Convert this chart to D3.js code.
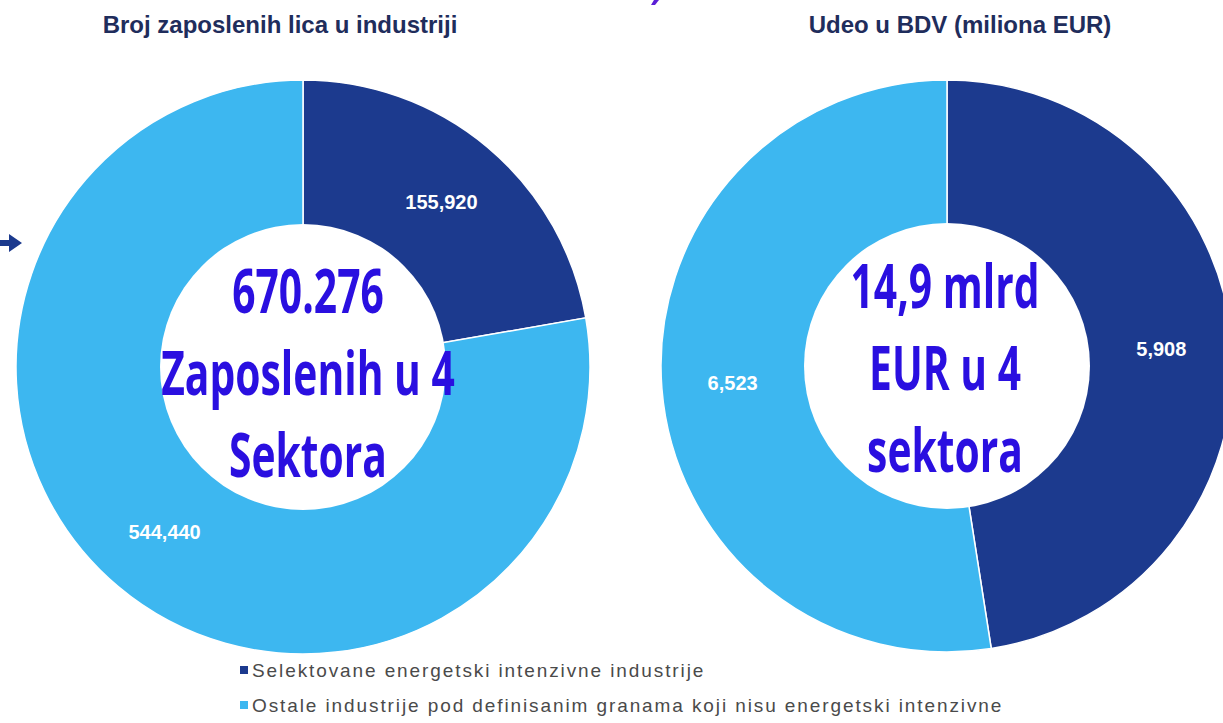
<!DOCTYPE html>
<html>
<head>
<meta charset="utf-8">
<script src="https://cdn.jsdelivr.net/npm/d3@7"></script>
<style>
  body { margin: 0; background: #fff; }
  svg { display: block; }
</style>
</head>
<body>
<div id="chart"></div>
<script>
var w = 1223, h = 723;

// data
var categories = ["Selektovane energetski intenzivne industrije",
                  "Ostale industrije pod definisanim granama koji nisu energetski intenzivne"];
var zaposleni = [155920, 544440];
var bdv = [5908, 6523];
var titles = ["Broj zaposlenih lica u industriji", "Udeo u BDV (miliona EUR)"];
var centerLeft = ["670.276", "Zaposlenih u 4", "Sektora"];
var centerRight = ["14,9 mlrd", "EUR u 4", "sektora"];

var color = d3.scaleOrdinal().domain(categories).range(["#1c3a8e", "#3db7f0"]);
var fmt = d3.format(",");

var svg = d3.select("#chart").append("svg")
    .attr("width", w)
    .attr("height", h);

var pie = d3.pie().sort(null).value(function(d) { return d.value; });

var charts = [
  { cx: 303, cy: 367, r: 287, values: zaposleni, title: titles[0], tx: 280, center: centerLeft, ccx: 308, ccy: 313 },
  { cx: 947, cy: 366, r: 286, values: bdv, title: titles[1], tx: 960, center: centerRight, ccx: 945, ccy: 308 }
];

var arc = d3.arc().innerRadius(140);
var labelArc = d3.arc();

charts.forEach(function(c) {
  var data = c.values.map(function(v, i) { return { key: categories[i], value: v }; });
  var g = svg.append("g").attr("transform", "translate(" + c.cx + "," + c.cy + ")");

  arc.outerRadius(c.r);
  g.selectAll("path.slice")
    .data(pie(data))
    .enter().append("path")
      .attr("class", "slice")
      .attr("d", arc)
      .attr("fill", function(d) { return color(d.data.key); })
      .attr("stroke", "#fff")
      .attr("stroke-width", 1.5);

  // white hole on top
  g.append("circle").attr("r", 143).attr("fill", "#fff");

  labelArc.innerRadius(215).outerRadius(215);
  g.selectAll("text.val")
    .data(pie(data))
    .enter().append("text")
      .attr("class", "val")
      .attr("transform", function(d) { return "translate(" + labelArc.centroid(d) + ")"; })
      .attr("text-anchor", "middle")
      .attr("dy", "0.35em")
      .style("font-family", "Liberation Sans, Arial, sans-serif")
      .style("font-weight", "bold")
      .style("font-size", "20px")
      .style("fill", "#fff")
      .text(function(d) { return fmt(d.data.value); });

  svg.append("text")
    .attr("x", c.tx)
    .attr("y", 33)
    .attr("text-anchor", "middle")
    .style("font-family", "Liberation Sans, Arial, sans-serif")
    .style("font-weight", "bold")
    .style("font-size", "24px")
    .style("fill", "#1f2d5c")
    .text(c.title);

  var ct = svg.append("g")
    .attr("transform", "translate(" + c.ccx + "," + c.ccy + ") scale(0.68,1)");
  ct.selectAll("text")
    .data(c.center)
    .enter().append("text")
      .attr("x", 0)
      .attr("y", function(d, i) { return i * 82; })
      .attr("text-anchor", "middle")
      .style("font-family", "Open Sans, sans-serif")
      .style("font-weight", 700)
      .style("font-size", "60px")
      .style("fill", "#2a0fe0")
      .text(function(d) { return d; });
});

// bit of a clipped heading at the top and the little arrow on the left edge
svg.append("path")
  .attr("d", "M654,0 L659,0 L655,5 L651,5 Z")
  .attr("fill", "#5b1fd6");

svg.append("path")
  .attr("d", "M0,240 L9,240 L9,234 L22,243 L9,252 L9,246 L0,246 Z")
  .attr("fill", "#1c3a8e");

// legend
var legend = svg.append("g").attr("transform", "translate(240,0)");
var li = legend.selectAll("g")
  .data(categories)
  .enter().append("g")
    .attr("transform", function(d, i) { return "translate(0," + (677 + i * 35) + ")"; });
li.append("rect")
  .attr("x", 0).attr("y", -11)
  .attr("width", 8).attr("height", 8)
  .attr("fill", function(d) { return color(d); });
li.append("text")
  .attr("x", 12)
  .attr("y", 0)
  .style("font-family", "Liberation Sans, Arial, sans-serif")
  .style("font-size", "19px")
  .style("letter-spacing", "1.9px")
  .style("fill", "#4a4a4a")
  .text(function(d) { return d; });
</script>
</body>
</html>
